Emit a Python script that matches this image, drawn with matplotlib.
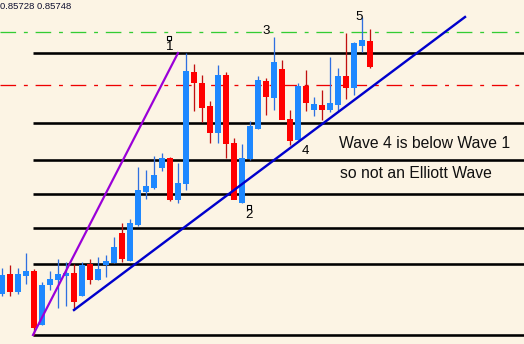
import matplotlib.pyplot as plt

# valori (livelli in pixel dall'alto, asse y invertito)
apertura = [293, 274, 291, 275, 271, 324, 284, 279, 275, 273, 295, 264, 279, 264, 262, 233,
            260, 224, 191, 187, 167, 158, 199, 183, 72, 83, 106, 132, 75, 143, 202, 158,
            128, 81, 97, 69, 119, 139, 86, 109, 105, 109, 104, 76, 87, 45, 41]
chiusura = [275, 291, 274, 271, 327, 285, 279, 274, 273, 301, 265, 279, 269, 261, 247, 258,
            223, 190, 186, 175, 158, 199, 183, 71, 82, 107, 132, 75, 143, 199, 158, 126,
            80, 96, 62, 119, 140, 86, 102, 104, 109, 103, 76, 87, 43, 40, 66]
massimo = [268, 265, 268, 253, 269, 282, 271, 259, 262, 264, 262, 259, 257, 255, 237, 223,
           219, 167, 170, 156, 153, 157, 163, 53, 64, 75, 101, 65, 72, 138, 144, 121,
           76, 78, 37, 60, 110, 83, 70, 97, 90, 57, 68, 33, 42, 17, 29]
minimo = [296, 296, 294, 284, 335, 325, 290, 308, 306, 310, 296, 284, 280, 277, 263, 262,
          261, 226, 199, 189, 171, 201, 203, 190, 111, 122, 143, 143, 158, 199, 203, 160,
          129, 115, 110, 119, 145, 140, 111, 116, 120, 112, 111, 99, 95, 52, 68]

livelli = [53, 123, 160, 194, 228, 264, 335]
livello_verde = 32
livello_rosso = 85

linea_viola = ([33, 178], [335, 53])
linea_blu = ([74, 465], [310, 17])

etichette = ['1', '2', '3', '4', '5']
pos_etichette = [(170, 47), (249.5, 215), (266, 31.5), (305, 151.5), (359.5, 16.5)]
quadratini = [(168.5, 37.5), (248.5, 206.5)]

plt.rcParams['font.family'] = ['Liberation Sans', 'DejaVu Sans']

fig = plt.figure(figsize=(5.24, 3.44), dpi=100)
ax = fig.add_axes([0, 0, 1, 1])
fig.patch.set_facecolor('#fcf4e4')
ax.set_facecolor('#fcf4e4')
ax.set_xlim(0, 524)
ax.set_ylim(344, 0)
ax.axis('off')

px = 0.72  # un pixel in punti

# linee orizzontali
for y in livelli:
    ax.plot([33, 524], [y, y], color='black', lw=2.6 * px, solid_capstyle='butt', zorder=1)
ax.plot([0, 524], [livello_verde, livello_verde], color='#33cc33', lw=1.3 * px,
        linestyle=(0, (12, 6, 3, 6)), zorder=1)
ax.plot([0, 524], [livello_rosso, livello_rosso], color='#ee0000', lw=1.3 * px,
        linestyle=(0, (12, 6, 3, 6)), zorder=1)

# candele
for i in range(len(apertura)):
    x = 2 + 8 * i
    o, c = apertura[i], chiusura[i]
    rialzo = c < o
    col = '#1e88ff' if rialzo else '#ff0000'
    col_ombra = '#2f6fe0' if rialzo else '#c01010'
    ax.vlines(x, massimo[i], minimo[i], color=col_ombra, lw=1.3 * px, zorder=2)
    ax.bar(x, abs(o - c) + 1, bottom=min(o, c), width=6, color=col, zorder=3)

# linee di tendenza
ax.plot(linea_viola[0], linea_viola[1], color='#9a00d8', lw=2.2 * px, zorder=4)
ax.plot(linea_blu[0], linea_blu[1], color='#0000cc', lw=2.4 * px, zorder=4)

# etichette delle onde
for t, (x, y) in zip(etichette, pos_etichette):
    ax.text(x, y, t, fontsize=9.5, ha='center', va='center', color='black', zorder=5)
for x, y in quadratini:
    ax.plot(x, y, marker='s', markersize=3.5, markerfacecolor='white',
            markeredgecolor='black', markeredgewidth=0.8, zorder=5)

ax.text(424.5, 143, 'Wave 4 is below Wave 1', fontsize=11.3, ha='center', va='center',
        color='#101010', zorder=5)
ax.text(416, 174, 'so not an Elliott Wave', fontsize=11.3, ha='center', va='center',
        color='#101010', zorder=5)
ax.text(0, 2, '0.85728 0.85748', fontsize=6.8, ha='left', va='top', color='#101030', zorder=5)

plt.savefig('out.png', dpi=100, facecolor=fig.get_facecolor())
